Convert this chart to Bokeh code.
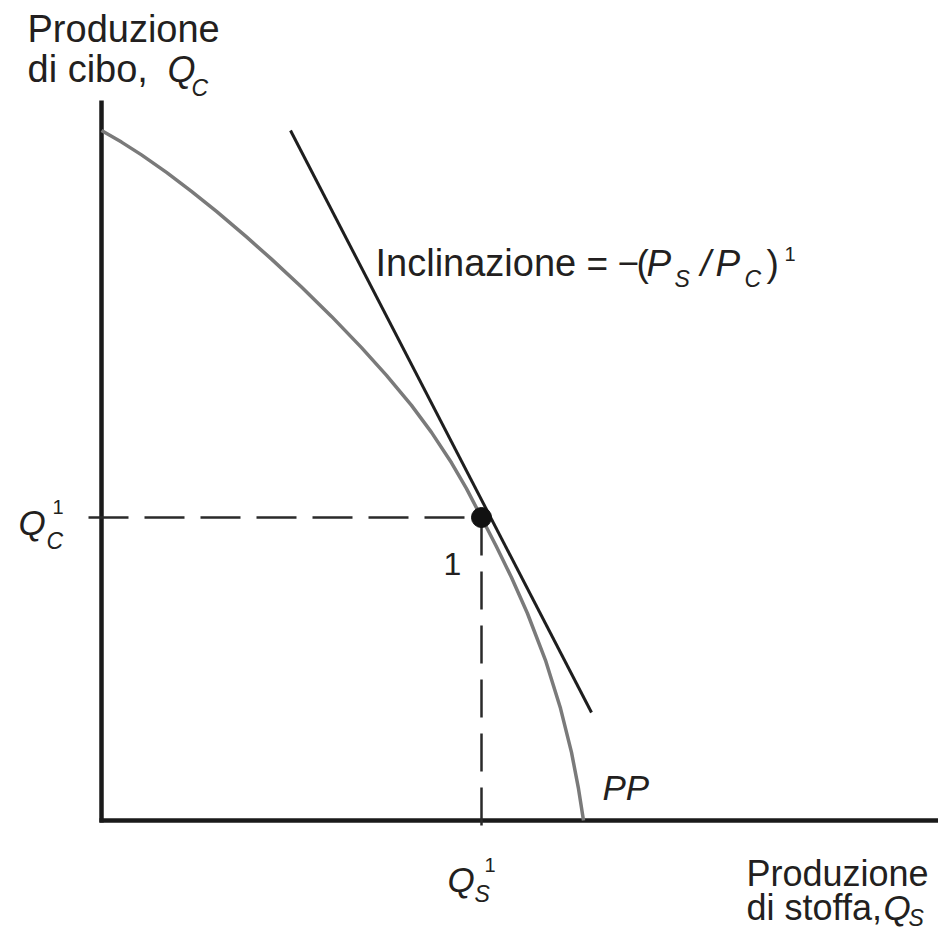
from bokeh.plotting import figure
from bokeh.models import Range1d
from bokeh.core.properties import value
from bokeh.embed import file_html
from bokeh.resources import INLINE

# ---- data (origin at the axis corner) ----
pp_cloth = [0, 20, 40, 65, 90, 115, 145, 170, 200, 230, 260, 285, 310, 330, 350, 365,
            380, 395, 410, 426, 444, 459, 470, 477, 482]
pp_food = [690, 678.4, 665.6, 648.1, 629.1, 609.1, 583.6, 561.4, 533.5, 504.1, 472.9,
           445.1, 415.1, 388.1, 357.7, 331.9, 303, 273.8, 243, 207, 160.2, 112.2,
           68.2, 31.8, 0]

tangent_cloth = [189, 490]
tangent_food = [690, 108]

eq_cloth = [380]   # Q_S^1
eq_food = [303]    # Q_C^1

axis_y_top = 720
axis_x_right = 837

FONT = value("Liberation Sans")
TXT = "#231f20"

p = figure(width=938, height=936, output_backend="svg", toolbar_location=None,
           x_range=Range1d(-101, 837), y_range=Range1d(-116, 820),
           min_border=0, min_border_left=0, min_border_right=0,
           min_border_top=0, min_border_bottom=0)
p.axis.visible = False
p.grid.visible = False
p.outline_line_color = None
p.background_fill_color = "white"
p.border_fill_color = "white"

# axes
p.line([0, 0], [-2, axis_y_top], line_color="#1a1a1a", line_width=4.5)
p.line([-2, axis_x_right], [0, 0], line_color="#1a1a1a", line_width=4.5)

# dashed guides
p.line([-13, eq_cloth[0]], [eq_food[0], eq_food[0]], line_color="#2a2a2a",
       line_width=2.5, line_dash="40 16")
p.line([eq_cloth[0], eq_cloth[0]], [eq_food[0], -13], line_color="#2a2a2a",
       line_width=2.5, line_dash="38 16")

# PP curve
p.line(pp_cloth, pp_food, line_color="#7a7a7a", line_width=3.5, line_join="round")
# tangent
p.line(tangent_cloth, tangent_food, line_color="#1e1e1e", line_width=3)
# point
p.scatter(eq_cloth, eq_food, size=20, fill_color="#111111", line_color="#111111")


def lab(t, x, y, size=37, style="normal", align="left"):
    # y is the intended baseline; shift to compensate the renderer's baseline offset
    p.text(x=[x], y=[y + 0.36 * size], text=[t], text_font=FONT,
           text_font_size=f"{size}px", text_font_style=style, text_color=TXT,
           text_align=align, text_baseline="alphabetic")

SUB = 23
SUP = 20

# y-axis title
lab("Produzione", -74, 778, size=38)
lab("di cibo,", -74, 738, size=38)
lab("Q", 66, 738, size=36, style="italic")
lab("C", 90, 724, size=SUB, style="italic")

# slope label
lab("Inclinazione", 274, 544, size=38)
lab("=", 485, 544)
lab("\u2212", 516, 544)
lab("(", 535, 544)
lab("P", 545, 544, style="italic")
lab("S", 573, 533, size=SUB, style="italic")
lab("/", 599, 544, style="italic")
lab("P", 614, 544, style="italic")
lab("C", 643, 533, size=SUB, style="italic")
lab(")", 665, 544)
lab("1", 683, 559, size=SUP)

# Q_C^1
lab("Q", -83, 285, size=35, style="italic")
lab("C", -55, 271, size=SUB, style="italic")
lab("1", -49, 306, size=SUP)

# point label
lab("1", 342, 245, size=32)

# Q_S^1
lab("Q", 346, -72, size=35, style="italic")
lab("S", 373, -82, size=SUB, style="italic")
lab("1", 383, -52, size=SUP)

# PP
lab("PP", 501, 20, size=35, style="italic")

# x-axis title
lab("Produzione", 645, -66, size=36)
lab("di stoffa,", 645, -100, size=36)
lab("Q", 782, -100, size=35, style="italic")
lab("S", 807, -106, size=SUB, style="italic")

open("out.html", "w").write(file_html(p, INLINE))
